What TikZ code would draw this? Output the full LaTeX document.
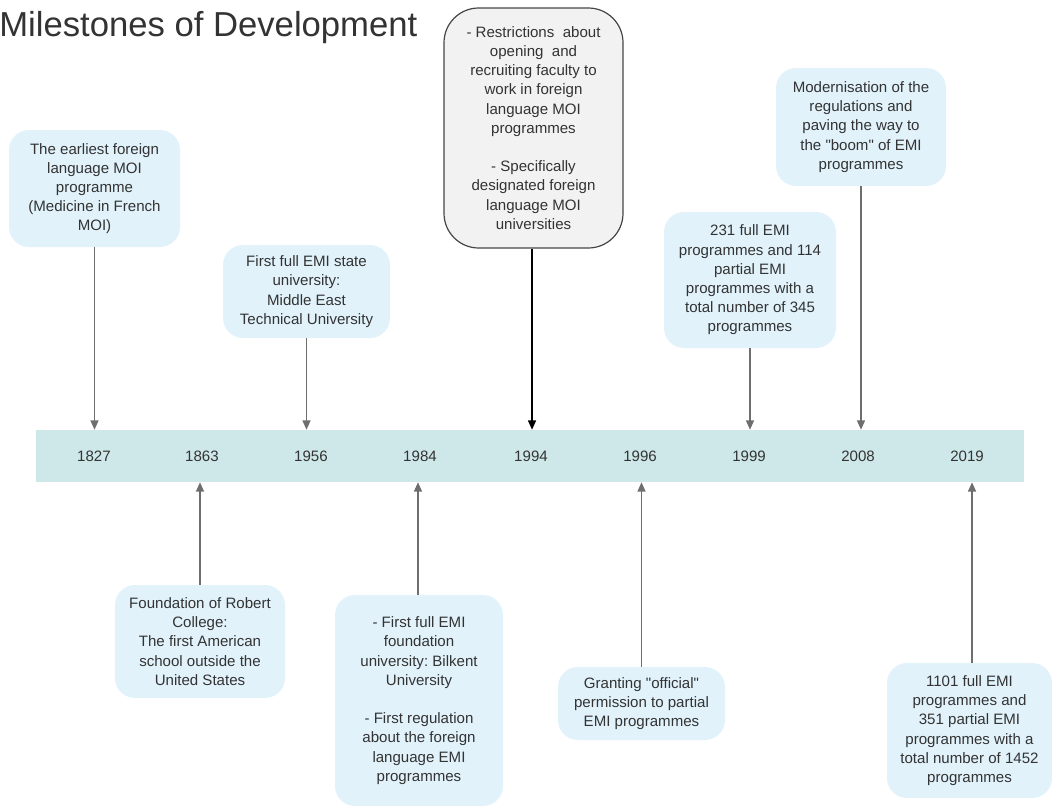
\documentclass[tikz,border=0pt]{standalone}
\usepackage{fontspec}
\setmainfont{Liberation Sans}[Ligatures=TeXOff]
\usetikzlibrary{arrows.meta}
\frenchspacing
\definecolor{boxfill}{RGB}{225,242,251}
\definecolor{grayfill}{RGB}{242,242,242}
\definecolor{grayline}{RGB}{70,70,70}
\definecolor{txt}{RGB}{51,51,51}
\definecolor{conncol}{RGB}{110,110,110}
\definecolor{barfill}{RGB}{206,231,233}
\begin{document}
\begin{tikzpicture}[x=0.75pt,y=-0.75pt,
  box/.style={fill=boxfill, rounded corners=15pt, align=center, text=txt,
    font=\fontsize{11.3}{14.4}\selectfont, inner sep=0pt},
  graybox/.style={box, fill=grayfill, draw=grayline, line width=0.9pt, rounded corners=26pt},
  conn/.style={draw=conncol, line width=1pt, -{Triangle[length=7pt,width=6pt]}},
  darkconn/.style={conn, draw=black},
  year/.style={font=\fontsize{11.3}{14}\selectfont, text=txt, inner sep=0pt}]
\useasboundingbox (0,0) rectangle (1052,811);

\node[anchor=base west, font=\fontsize{26}{30}\selectfont, text=txt, inner sep=0pt] (title) at (-1,36) {Milestones of Development};

% timeline bar
\node[fill=barfill, minimum width=741pt, minimum height=39pt, inner sep=0pt] (bar) at (530,456) {};
\node[year] (y1827) at (94,456) {1827};
\node[year] (y1863) at (202,456) {1863};
\node[year] (y1956) at (311,456) {1956};
\node[year] (y1984) at (420,456) {1984};
\node[year] (y1994) at (531,456) {1994};
\node[year] (y1996) at (640,456) {1996};
\node[year] (y1999) at (749,456) {1999};
\node[year] (y2008) at (858,456) {2008};
\node[year] (y2019) at (967,456) {2019};

% upper boxes
\node[box, minimum width=128.25pt, minimum height=87.75pt] (b1827) at (94.5,188.5)
  {The earliest foreign\\language MOI\\programme\\(Medicine in French\\MOI)};
\node[box, minimum width=125.25pt, minimum height=69.75pt] (b1956) at (306.5,291.5)
  {First full EMI state\\university:\\Middle East\\Technical University};
\node[graybox, minimum width=134.25pt, minimum height=180pt] (b1994) at (533.5,128)
  {- Restrictions\ \ about\\opening\ \ and\\recruiting faculty to\\work in foreign\\language MOI\\programmes\\[14.4pt]- Specifically\\designated foreign\\language MOI\\universities};
\node[box, minimum width=129pt, minimum height=102pt] (b1999) at (750,280)
  {231 full EMI\\programmes and 114\\partial EMI\\programmes with a\\total number of 345\\programmes};
\node[box, minimum width=127.5pt, minimum height=88.5pt] (b2008) at (861,127)
  {Modernisation of the\\regulations and\\paving the way to\\the "boom" of EMI\\programmes};

% lower boxes
\node[box, minimum width=127.5pt, minimum height=84.75pt] (b1863) at (200,641.5)
  {Foundation of Robert\\College:\\The first American\\school outside the\\United States};
\node[box, minimum width=126pt, minimum height=158.25pt] (b1984) at (419,700.5)
  {- First full EMI\\foundation\\university: Bilkent\\University\\[14.4pt]- First regulation\\about the foreign\\language EMI\\programmes};
\node[box, minimum width=125.25pt, minimum height=54.75pt] (b1996) at (641.5,703.5)
  {Granting "official"\\permission to partial\\EMI programmes};
\node[box, minimum width=123.75pt, minimum height=101.25pt] (b2019) at (969.5,730.5)
  {1101 full EMI\\programmes and\\351 partial EMI\\programmes with a\\total number of 1452\\programmes};

% connectors
\draw[conn] (b1827.south) -- (b1827.south |- bar.north);
\draw[conn] (b1956.south) -- (b1956.south |- bar.north);
\draw[darkconn] ([xshift=-1.1pt]b1994.south) -- ([xshift=-1.1pt]b1994.south |- bar.north);
\draw[conn] (b1999.south) -- (b1999.south |- bar.north);
\draw[conn] (b2008.south) -- (b2008.south |- bar.north);
\draw[conn] (b1863.north) -- (b1863.north |- bar.south);
\draw[conn] ([xshift=-0.75pt]b1984.north) -- ([xshift=-0.75pt]b1984.north |- bar.south);
\draw[conn] (b1996.north) -- (b1996.north |- bar.south);
\draw[conn] ([xshift=1.9pt]b2019.north) -- ([xshift=1.9pt]b2019.north |- bar.south);
\end{tikzpicture}
\end{document}
